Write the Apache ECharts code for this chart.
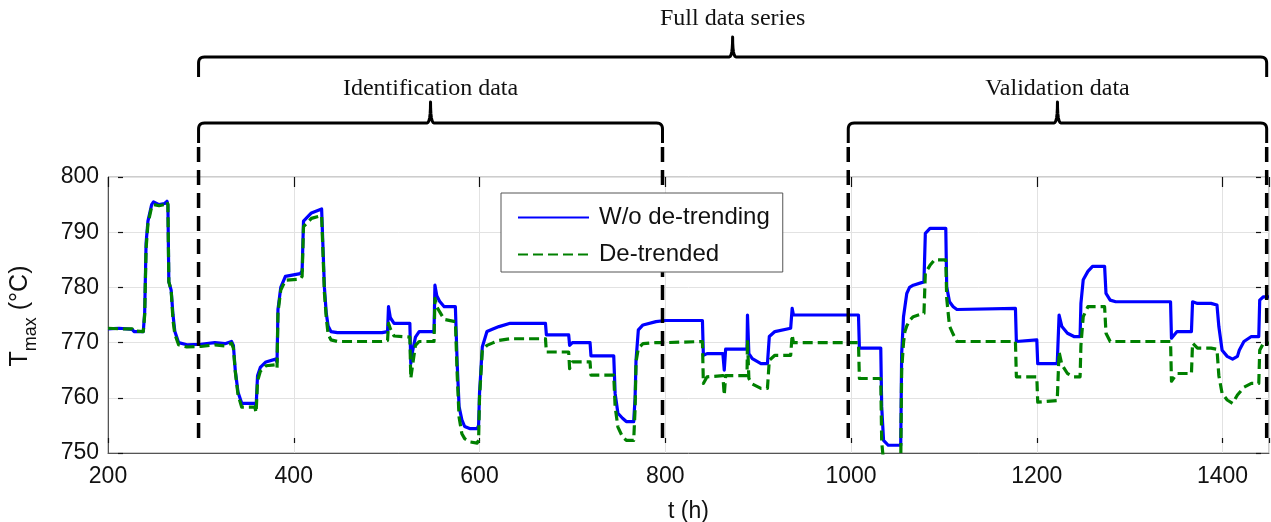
<!DOCTYPE html>
<html>
<head>
<meta charset="utf-8">
<title>T_max with and without de-trending</title>
<script src="https://cdn.jsdelivr.net/npm/echarts@6/dist/echarts.min.js"></script>
<style>
  html, body { margin: 0; padding: 0; background: #fff; }
  #chart { width: 1271px; height: 522px; }
</style>
</head>
<body>
<div id="chart"></div>
<script>
// Time stamps (h) of the recorded samples
const hours = [
  200, 212, 226, 228, 238, 239.5, 241, 243, 247, 249, 255, 261, 263.5, 264.5, 265.5, 268, 270, 272, 276, 285,
  300, 315, 326, 333, 335, 337, 340, 344, 358, 359.5, 361, 364, 370, 380.5, 382, 383, 386, 391, 407, 409,
  410.5, 419, 430, 431.5, 433, 435, 437, 440, 447, 495, 501, 502, 504, 508, 525, 526, 528, 531, 535, 551,
  552, 554, 557, 562, 574, 576, 578, 581, 584, 590, 597.5, 599, 600, 603, 608, 615, 621, 633, 671, 672,
  696, 697, 700, 719, 720, 744.5, 746, 749, 754, 758, 766, 767.5, 768.5, 771, 776, 790, 800, 840, 841, 845,
  862, 863.5, 865, 888, 888.5, 890, 893.7, 903, 910, 912, 918, 935, 936.6, 938, 1008, 1009, 1032, 1033, 1035, 1040,
  1053.5, 1054.5, 1056.5, 1058, 1060, 1063, 1067, 1078.5, 1080, 1085, 1090, 1102, 1103, 1106, 1110, 1114, 1177, 1178, 1180, 1200,
  1201, 1222, 1224, 1227, 1233, 1240, 1246.6, 1247.5, 1250, 1255, 1260, 1273, 1274.5, 1279, 1285, 1344, 1345, 1351, 1366.5, 1367.7,
  1373, 1387.5, 1394, 1396, 1399.5, 1405, 1410.8, 1416, 1418, 1423, 1431, 1439, 1440, 1444, 1450
];

// Maximum temperature (°C), raw measurement
const tempRaw = [
  772.5, 772.6, 772.4, 772.0, 772.0, 775.5, 788.0, 792.0, 795.0, 795.5, 795.0, 795.2, 795.6, 795.0, 781.0, 779.5, 775.0, 772.0, 770.0, 769.6,
  769.7, 770.0, 769.8, 770.2, 769.5, 765.0, 761.0, 759.0, 759.0, 758.5, 764.0, 765.5, 766.5, 767.0, 766.5, 776.0, 780.0, 782.0, 782.5, 783.0,
  792.0, 793.5, 794.2, 794.4, 780.0, 775.3, 773.0, 772.0, 771.8, 771.8, 772.0, 776.5, 774.5, 773.5, 773.5, 766.2, 768.5, 771.0, 772.0, 772.0,
  780.4, 778.5, 777.5, 776.5, 776.5, 766.0, 758.4, 756.0, 754.8, 754.4, 754.4, 755.0, 760.8, 769.2, 772.0, 772.5, 772.9, 773.5, 773.5, 771.4,
  771.4, 769.5, 770.0, 770.0, 767.6, 767.6, 760.8, 757.2, 756.3, 755.7, 755.7, 760.0, 766.8, 772.3, 773.2, 773.8, 774.0, 774.0, 767.7, 768.0,
  768.0, 765.0, 768.8, 768.8, 775.0, 768.0, 767.1, 766.2, 766.2, 771.1, 772.0, 772.6, 776.2, 775.0, 775.0, 769.0, 769.0, 758.4, 752.3, 751.4,
  751.4, 768.0, 774.7, 776.5, 778.9, 780.0, 780.4, 781.0, 789.8, 790.7, 790.7, 790.7, 780.1, 777.4, 776.5, 776.0, 776.2, 770.2, 770.5, 770.5,
  766.2, 766.2, 775.0, 772.9, 771.7, 771.1, 771.1, 777.1, 781.4, 782.9, 783.8, 783.8, 778.9, 777.7, 777.4, 777.4, 770.8, 772.0, 772.0, 777.4,
  777.1, 777.1, 776.8, 772.9, 768.6, 767.5, 767.0, 767.5, 768.6, 770.2, 771.1, 771.1, 777.7, 778.3, 778.3
];

// Maximum temperature (°C) after removing the trend
const tempDetrended = [
  772.6, 772.5, 772.5, 772.1, 772.0, 775.0, 787.0, 791.5, 794.6, 795.0, 794.8, 795.0, 795.5, 795.0, 781.0, 779.5, 774.0, 771.5, 769.6, 769.2,
  769.3, 769.6, 769.4, 769.9, 769.0, 764.8, 760.5, 758.3, 758.3, 757.3, 763.0, 764.8, 765.8, 766.0, 765.4, 775.5, 779.5, 781.3, 781.5, 782.0,
  791.0, 792.5, 793.0, 793.2, 779.0, 774.5, 771.5, 770.5, 770.2, 770.2, 770.4, 773.5, 772.5, 771.2, 771.0, 763.5, 766.0, 769.5, 770.2, 770.2,
  778.0, 776.5, 775.6, 774.2, 773.8, 764.0, 756.5, 753.5, 752.6, 752.0, 751.8, 752.3, 760.0, 768.6, 769.5, 770.0, 770.4, 770.7, 770.7, 768.3,
  768.3, 765.3, 766.5, 766.5, 764.1, 764.1, 758.4, 754.7, 752.9, 752.3, 752.3, 758.0, 766.5, 769.0, 769.8, 770.0, 770.0, 770.2, 762.6, 763.8,
  764.0, 760.5, 764.0, 764.0, 770.5, 763.5, 762.5, 761.7, 761.7, 766.8, 767.7, 767.7, 771.4, 770.0, 770.0, 763.5, 763.5, 752.0, 748.5, 748.0,
  748.0, 765.0, 770.0, 772.0, 773.0, 774.0, 774.7, 775.3, 782.6, 784.0, 785.0, 785.0, 778.0, 773.0, 771.5, 770.2, 770.2, 763.8, 763.8, 763.8,
  759.2, 759.5, 768.3, 766.0, 764.4, 763.8, 763.8, 769.5, 774.7, 776.5, 776.5, 776.5, 771.7, 770.2, 770.2, 770.2, 763.0, 764.4, 764.4, 769.9,
  769.0, 769.0, 768.8, 764.0, 760.8, 759.6, 759.0, 760.5, 760.8, 761.9, 762.6, 762.6, 768.6, 769.9, 769.9
];

// Axis extents and tick spacing
const hourRange = [200, 1450];
const hourStep = 200;
const tempRange = [750, 800];
const tempStep = 10;

// Segments of the record used for model identification and validation (h)
const identificationSpan = [297.5, 797];
const validationSpan = [997, 1447.5];
const segmentLabels = ['Full data series', 'Identification data', 'Validation data'];
const seriesNames = ['W/o de-trending', 'De-trended'];

const SANS = '"Liberation Sans", Arial, sans-serif';
const SERIF = '"Liberation Serif", "Times New Roman", serif';

const chart = echarts.init(document.getElementById('chart'), null, { renderer: 'canvas' });

// Short inward tick marks drawn by label-less companion axes
function tickAxisX(position, offset, len) {
  return {
    type: 'value', position: position, offset: offset,
    min: hourRange[0], max: hourRange[1], interval: hourStep,
    axisLine: { show: false }, axisLabel: { show: false }, splitLine: { show: false },
    axisTick: { show: true, inside: true, length: len, lineStyle: { color: '#111', width: 1.2 } }
  };
}
function tickAxisY(position, offset, len) {
  return {
    type: 'value', position: position, offset: offset,
    min: tempRange[0], max: tempRange[1], interval: tempStep,
    axisLine: { show: false }, axisLabel: { show: false }, splitLine: { show: false },
    axisTick: { show: true, inside: true, length: len, lineStyle: { color: '#111', width: 1.2 } }
  };
}

const option = {
  backgroundColor: '#fff',
  animation: false,
  grid: {
    left: 108, right: 2, top: 177, bottom: 69,
    containLabel: false, outerBoundsMode: 'none',
    show: true, borderColor: '#9a9a9a', borderWidth: 1, backgroundColor: 'transparent'
  },
  legend: {
    left: 501, top: 193, zlevel: 1, z: 10,
    orient: 'vertical',
    itemWidth: 71, itemHeight: 14, itemGap: 10,
    padding: [11, 13, 4, 16],
    borderColor: '#555', borderWidth: 1, borderRadius: 0,
    backgroundColor: '#fff',
    itemStyle: { opacity: 0 },
    textStyle: { fontFamily: SANS, fontSize: 24, color: '#111', lineHeight: 27, padding: [0, 0, 0, 5] },
    data: seriesNames
  },
  xAxis: [
    {
      type: 'value',
      min: hourRange[0], max: hourRange[1], interval: hourStep,
      name: 't (h)', nameLocation: 'middle', nameGap: 47,
      nameTextStyle: { fontFamily: SANS, fontSize: 23, color: '#111' },
      axisLine: { show: true, lineStyle: { color: '#555', width: 1 } },
      axisTick: { show: false },
      axisLabel: {
        fontFamily: SANS, fontSize: 23, color: '#111', margin: 12, showMaxLabel: false,
        formatter: (v) => String(v)
      },
      splitLine: { show: true, lineStyle: { color: '#e2e2e2', width: 1 } }
    },
    tickAxisX('bottom', -10, 5),
    tickAxisX('top', 0, 10)
  ],
  yAxis: [
    {
      type: 'value',
      min: tempRange[0], max: tempRange[1], interval: tempStep,
      axisLine: { show: true, lineStyle: { color: '#555', width: 1 } },
      axisTick: { show: false },
      axisLabel: { fontFamily: SANS, fontSize: 23, color: '#111', margin: 9 },
      splitLine: { show: true, lineStyle: { color: '#e2e2e2', width: 1 } }
    },
    tickAxisY('left', -10, 5),
    tickAxisY('right', -8, 5)
  ],
  series: [
    {
      name: seriesNames[0], type: 'line',
      xAxisIndex: 0, yAxisIndex: 0,
      data: hours.map((t, i) => [t, tempRaw[i]]),
      showSymbol: false, symbol: 'none',
      lineStyle: { color: '#0000ff', width: 3.2, type: 'solid', join: 'round' },
      itemStyle: { color: '#0000ff' },
      clip: true, z: 3
    },
    {
      name: seriesNames[1], type: 'line',
      xAxisIndex: 0, yAxisIndex: 0,
      data: hours.map((t, i) => [t, tempDetrended[i]]),
      showSymbol: false, symbol: 'none',
      lineStyle: { color: '#008000', width: 3.2, type: [10, 5], join: 'round' },
      itemStyle: { color: '#008000' },
      clip: true, z: 4
    }
  ]
};

chart.setOption(option);

// Points along a quadratic curve from p0 to p2 with control point p1
function quad(p0, p1, p2, n) {
  const pts = [];
  for (let i = 1; i <= n; i++) {
    const s = i / n, u = 1 - s;
    pts.push([
      u * u * p0[0] + 2 * u * s * p1[0] + s * s * p2[0],
      u * u * p0[1] + 2 * u * s * p1[1] + s * s * p2[1]
    ]);
  }
  return pts;
}

// Curly brace spanning two pixel x positions, opening downward, with a tip at its middle
function bracePoints(x1, x2, y0, hook, tip) {
  const r = 6, xm = (x1 + x2) / 2, f = 3.5;
  let pts = [[x1, y0 + hook], [x1, y0 + r]];
  pts = pts.concat(quad([x1, y0 + r], [x1, y0], [x1 + r, y0], 6));
  pts.push([xm - f, y0]);
  pts = pts.concat(quad([xm - f, y0], [xm, y0], [xm, y0 - tip], 6));
  pts = pts.concat(quad([xm, y0 - tip], [xm, y0], [xm + f, y0], 6));
  pts.push([x2 - r, y0]);
  pts = pts.concat(quad([x2 - r, y0], [x2, y0], [x2, y0 + r], 6));
  pts.push([x2, y0 + hook]);
  return pts;
}

function drawAnnotations() {
  const px = (t) => chart.convertToPixel({ xAxisIndex: 0 }, t);
  const idA = px(identificationSpan[0]), idB = px(identificationSpan[1]);
  const vaA = px(validationSpan[0]), vaB = px(validationSpan[1]);
  const fullA = idA, fullB = vaB;

  const els = [];
  const braceStyle = { stroke: '#000', lineWidth: 3, fill: null, lineJoin: 'round' };
  const brace = (a, b, y0, hook, tip) => ({
    type: 'polyline', z: 50, silent: true,
    shape: { points: bracePoints(a, b, y0, hook, tip) },
    style: braceStyle
  });
  els.push(brace(fullA, fullB, 57, 20, 20));
  els.push(brace(idA, idB, 123, 20, 21));
  els.push(brace(vaA, vaB, 123, 20, 21));

  const label = (text, x, y) => ({
    type: 'text', x: x, y: y, z: 50, silent: true,
    style: { text: text, font: '24px ' + SERIF, fill: '#111', align: 'center', verticalAlign: 'middle' }
  });
  els.push(label(segmentLabels[0], (fullA + fullB) / 2, 19));
  els.push(label(segmentLabels[1], (idA + idB) / 2, 89));
  els.push(label(segmentLabels[2], (vaA + vaB) / 2, 89));

  // Dashed separators marking segment boundaries
  [idA, idB, vaA, vaB].forEach((x) => {
    els.push({
      type: 'line', z: 50, silent: true,
      shape: { x1: x, y1: 147, x2: x, y2: 443 },
      style: { stroke: '#000', lineWidth: 3.5, lineDash: [15, 8] }
    });
  });

  // Rotated y-axis title with subscript
  els.push({
    type: 'text', x: 22, y: 316, rotation: Math.PI / 2, z: 50, silent: true,
    style: {
      text: '{a|T}{b|max}{a| (°C)}',
      align: 'center', verticalAlign: 'middle',
      rich: {
        a: { fontFamily: SANS, fontSize: 25, lineHeight: 28, fill: '#111', verticalAlign: 'top' },
        b: { fontFamily: SANS, fontSize: 18, lineHeight: 18, fill: '#111', padding: [14, 0, 0, 0], verticalAlign: 'top' }
      }
    }
  });

  chart.setOption({ graphic: els });
}

drawAnnotations();
</script>
</body>
</html>
